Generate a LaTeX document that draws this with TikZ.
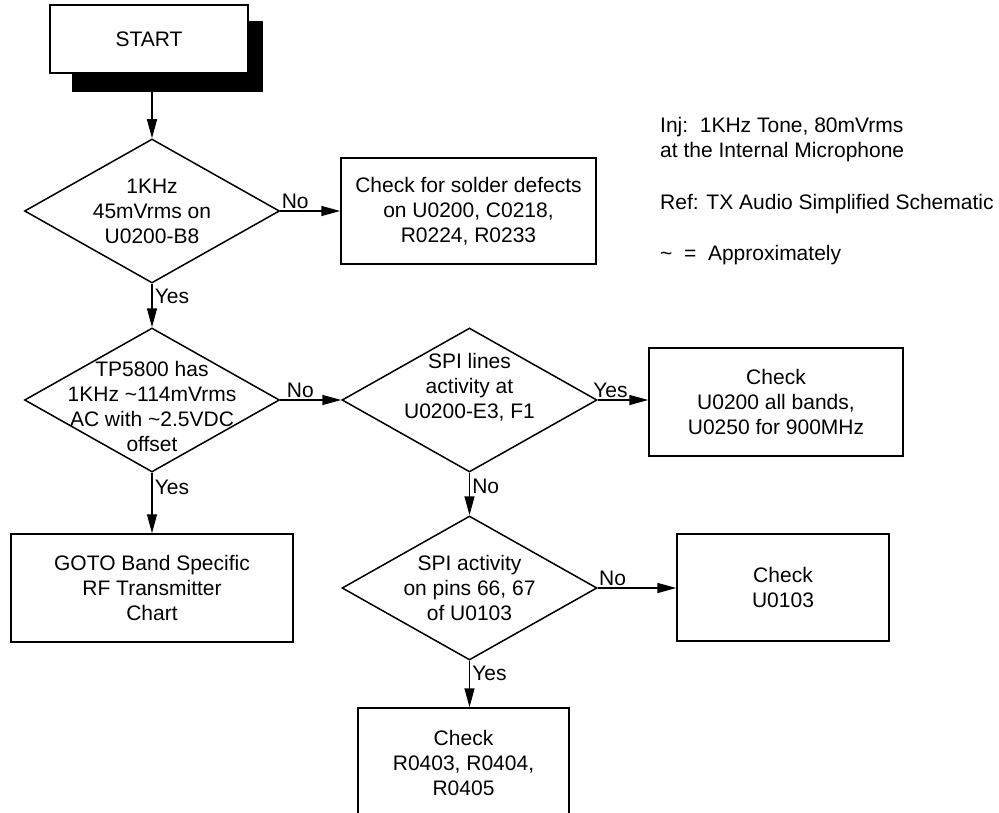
\documentclass[tikz,border=0pt]{standalone}
\usepackage{fontspec}
\setmainfont{Liberation Sans}
\usetikzlibrary{arrows.meta,shapes.geometric}
\newcommand{\chartfont}{\fontsize{21}{25}\selectfont}

\begin{document}
\begin{tikzpicture}[x=1pt, y=-1pt,
  box/.style={draw, line width=1.5pt, fill=white, align=center, font=\chartfont, inner sep=0pt},
  decision/.style={draw, diamond, line width=1.5pt, minimum width=255pt, minimum height=144pt, inner sep=0pt},
  txt/.style={align=center, font=\chartfont, inner sep=0pt},
  arr/.style={-{Triangle[length=19pt, width=10pt]}, line width=1.5pt},
  lbl/.style={font=\chartfont, inner sep=2pt}
]
\useasboundingbox (0,0) rectangle (999,813);
\clip (0,0) rectangle (999,813);

% start block with its shadow
\node[fill=black, minimum width=191pt, minimum height=71pt, inner sep=0pt] (shadow) at (167.5,56.5) {};
\node[box, minimum width=198pt, minimum height=68pt] (start) at (149,39) {START};

% decisions
\node[decision] (d1) at (152,211) {};
\node[txt] (d1t) at (152,211) {1KHz\\45mVrms on\\U0200-B8};
\node[decision] (d2) at (152,400) {};
\node[txt] (d2t) at (152,406) {TP5800 has\\1KHz \textasciitilde 114mVrms\\AC with \textasciitilde 2.5VDC\\offset};
\node[decision] (d3) at (469.5,400) {};
\node[txt] (d3t) at (469.5,387) {SPI lines\\activity at\\U0200-E3, F1};
\node[decision] (d4) at (469.5,588) {};
\node[txt] (d4t) at (469.5,588) {SPI activity\\on pins 66, 67\\of U0103};

% actions
\node[box, minimum width=255pt, minimum height=106pt] (solder) at (468.5,211) {Check for solder defects\\on U0200, C0218,\\R0224, R0233};
\node[box, minimum width=282pt, minimum height=108pt] (goto) at (152,588) {GOTO Band Specific\\RF Transmitter\\Chart};
\node[box, minimum width=254pt, minimum height=108pt] (chku200) at (776,402) {Check\\U0200 all bands,\\U0250 for 900MHz};
\node[box, minimum width=212pt, minimum height=107pt] (chku103) at (783,587.5) {Check\\U0103};
\node[box, minimum width=211pt, minimum height=110pt] (chkres) at (463.5,763) {Check\\R0403, R0404,\\R0405};

% notes
\node[font=\chartfont, align=left, anchor=west, inner sep=0pt] (inj) at (660,140) {Inj:\ \ 1KHz Tone, 80mVrms\\at the Internal Microphone};
\node[font=\chartfont, anchor=west, inner sep=0pt] (ref) at (660,204) {Ref: TX Audio Simplified Schematic};
\node[font=\chartfont, anchor=west, inner sep=0pt] (approx) at (660,255) {\textasciitilde\ \ =\ \ Approximately};

% connectors
\draw[arr] (shadow.south -| d1.north) -- (d1.north);
\draw[arr] (d1.east) -- node[lbl, pos=0.25, above]{No} (solder.west);
\draw[arr] (d1.south) -- node[lbl, pos=0.3, right]{Yes} (d2.north);
\draw[arr] (d2.east) -- node[lbl, pos=0.33, above]{No} (d3.west);
\draw[arr] (d2.south) -- node[lbl, pos=0.25, right]{Yes} (goto.north);
\draw[arr] (d3.east) -- node[lbl, pos=0.25, above]{Yes} (chku200.west |- d3.east);
\draw[arr] (d3.south) -- node[lbl, pos=0.33, right]{No} (d4.north);
\draw[arr] (d4.east) -- node[lbl, pos=0.19, above]{No} (chku103.west |- d4.east);
\draw[arr] (d4.south) -- node[lbl, pos=0.27, right]{Yes} (chkres.north -| d4.south);
\end{tikzpicture}
\end{document}
